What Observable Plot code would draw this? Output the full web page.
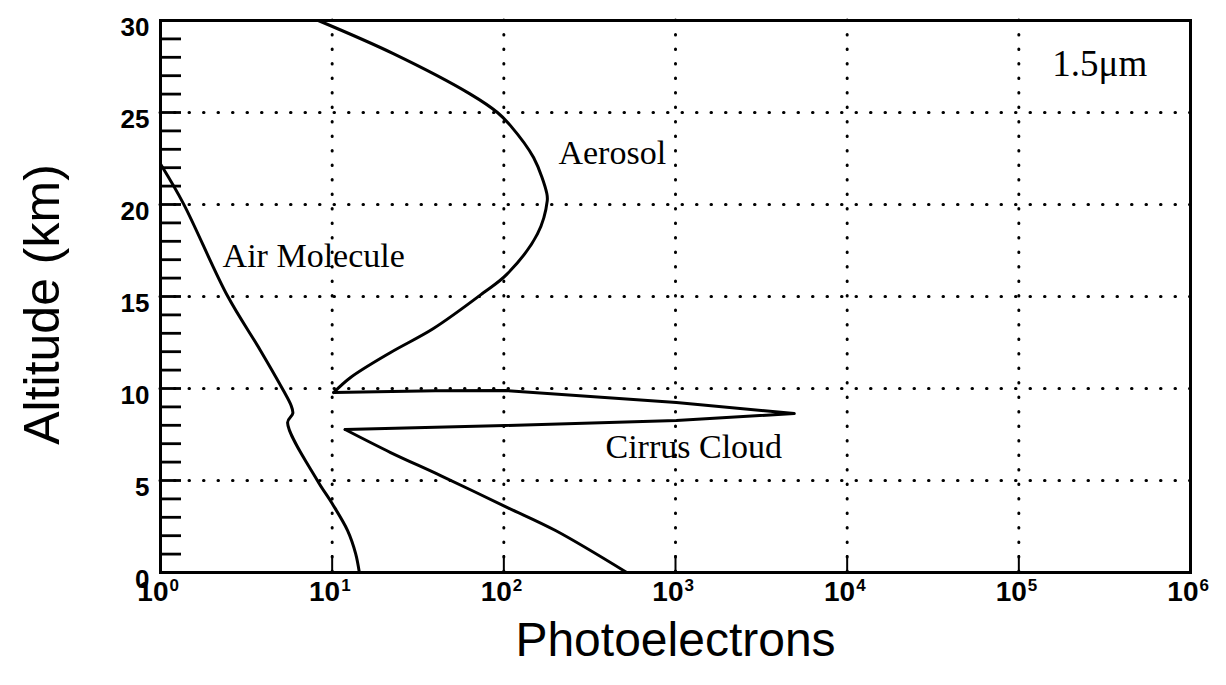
<!DOCTYPE html>
<html>
<head>
<meta charset="utf-8">
<script src="https://cdn.jsdelivr.net/npm/d3@7"></script>
<script src="https://cdn.jsdelivr.net/npm/@observablehq/plot@0.6"></script>
<style>
  html, body { margin: 0; padding: 0; background: #fff; }
  #chart svg { display: block; }
</style>
</head>
<body>
<div id="chart"></div>
<script>
// ---- Data ----
// Air Molecule curve
const airAlt = [22.2, 20.05, 15.05, 12.07, 9.89, 9.1, 8.65, 8.15, 5.0, 3.75, 2.28, 1.03, 0];
const airPe  = [1.0, 1.36, 2.45, 3.82, 5.2, 5.75, 5.9, 5.5, 8.2, 10.0, 12.3, 13.7, 14.4];

// Aerosol curve (30 km down to the cloud top)
const aerosolAlt = [30, 28.2, 26.0, 25.0, 24.3, 22.55, 20.6, 20.2, 18.4, 16.2, 15.2, 13.26, 11.96, 10.6, 9.78];
const aerosolPe  = [8.3, 22.7, 63.8, 91.8, 109, 149, 178, 179, 157, 104, 76, 38.9, 21.9, 12.8, 10.2];

// Cirrus cloud spike
const cirrusAlt = [9.78, 9.88, 9.89, 9.24, 8.64, 8.26, 7.99, 7.77];
const cirrusPe  = [10.2, 40, 102, 1012, 4920, 1012, 102, 11.9];

// Aerosol below the cloud
const lowAlt = [7.77, 6.52, 5.27, 3.53, 2.28, 0];
const lowPe  = [11.9, 21.9, 42.8, 105, 200, 520];

// Axes
const decades   = [1, 10, 100, 1000, 10000, 100000, 1000000];
const exponents = ["0", "1", "2", "3", "4", "5", "6"];
const gridDecades = [10, 100, 1000, 10000, 100000];
const altLabels = [0, 5, 10, 15, 20, 25, 30];
const gridAlt   = [5, 10, 15, 20, 25];
const minorAlt  = [1,2,3,4,5,6,7,8,9,10,11,12,13,14,15,16,17,18,19,20,21,22,23,24,25,26,27,28,29];
const xTitle = ["Photoelectrons"];
const yTitle = ["Altitude (km)"];

// Annotations
const noteText = ["Aerosol", "Air Molecule", "Cirrus Cloud", "1.5μm"];
const notePe   = [208, 2.3, 391, 156700];
const noteAlt  = [22.2, 16.6, 6.2, 27.0];
const noteSize = [34, 34, 34, 37];

// ---- Build tables ----
const toRows = (alts, pes) => alts.map((a, i) => ({alt: a, pe: pes[i]}));
const air = toRows(airAlt, airPe);
const aerosol = toRows(aerosolAlt, aerosolPe);
const cirrus = toRows(cirrusAlt, cirrusPe);
const low = toRows(lowAlt, lowPe);
const notes = noteText.map((t, i) => ({text: t, pe: notePe[i], alt: noteAlt[i], size: noteSize[i]}));
const xTicks = decades.map((d, i) => ({v: d, e: exponents[i]}));

const W = 1226, H = 685;
const mL = 160, mR = 36, mT = 20, mB = 113;
const frameW = W - mL - mR, frameH = H - mT - mB;
const sans = "'Liberation Sans', Arial, Helvetica, sans-serif";
const serif = "'Liberation Serif', 'Times New Roman', serif";

const dotted = {stroke: "black", strokeWidth: 3, strokeDasharray: "0.5,14", strokeLinecap: "round"};

const chart = Plot.plot({
  width: W,
  height: H,
  marginLeft: mL,
  marginRight: mR,
  marginTop: mT,
  marginBottom: mB,
  style: {fontFamily: sans, color: "black", background: "white"},
  x: {type: "log", domain: [1, 1e6], axis: null},
  y: {domain: [0, 30], axis: null},
  marks: [
    // dotted grid
    Plot.ruleX(gridDecades, {x: d => d, ...dotted}),
    Plot.ruleY(gridAlt, {y: d => d, ...dotted}),
    // inward ticks
    Plot.tickY(minorAlt, {y: d => d, stroke: "black", strokeWidth: 2.8, insetRight: frameW - 21}),
    Plot.tickX(decades, {x: d => d, stroke: "black", strokeWidth: 2, insetTop: frameH - 17}),
    // curves
    Plot.line(air, {x: "pe", y: "alt", stroke: "black", strokeWidth: 3, curve: "catmull-rom"}),
    Plot.line(aerosol, {x: "pe", y: "alt", stroke: "black", strokeWidth: 3, curve: "catmull-rom"}),
    Plot.line(cirrus, {x: "pe", y: "alt", stroke: "black", strokeWidth: 3, curve: "linear", strokeLinejoin: "round"}),
    Plot.line(low, {x: "pe", y: "alt", stroke: "black", strokeWidth: 3, curve: "catmull-rom"}),
    // frame
    Plot.frame({stroke: "black", strokeWidth: 3}),
    // y tick labels
    Plot.text(altLabels, {y: d => d, text: d => String(d), frameAnchor: "left", textAnchor: "end",
      dx: -11, dy: 7, fontSize: 26, fontWeight: "bold", fill: "black"}),
    // x tick labels: "10" + superscript exponent
    Plot.text(xTicks, {x: "v", text: () => "10", frameAnchor: "bottom", textAnchor: "end",
      dx: 8, dy: 28, fontSize: 28, fontWeight: "bold", fill: "black"}),
    Plot.text(xTicks, {x: "v", text: "e", frameAnchor: "bottom", textAnchor: "start",
      dx: 9, dy: 18, fontSize: 17, fontWeight: "bold", fill: "black"}),
    // axis titles
    Plot.text(xTitle, {frameAnchor: "bottom", textAnchor: "middle", dy: 83, fontSize: 48, fill: "black"}),
    Plot.text(yTitle, {frameAnchor: "left", textAnchor: "middle", rotate: -90, dx: -118, dy: 8, fontSize: 50, fill: "black"}),
    // annotations
    Plot.text(notes, {x: "pe", y: "alt", text: "text", fontSize: "size", textAnchor: "start",
      lineAnchor: "bottom", fontFamily: serif, fill: "black"})
  ]
});

document.getElementById("chart").appendChild(chart);
</script>
</body>
</html>
